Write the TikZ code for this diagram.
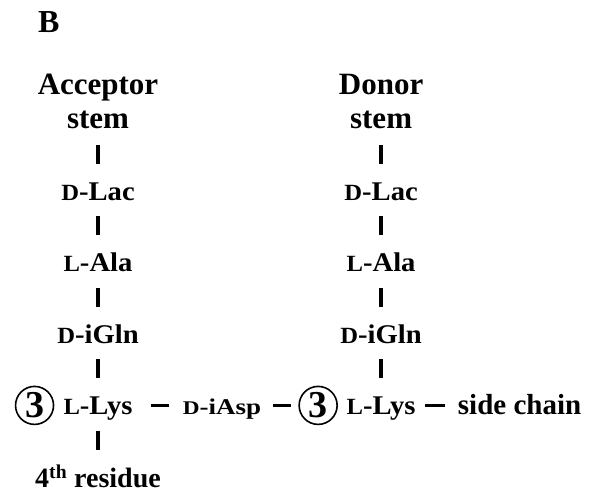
\documentclass[tikz,border=0pt]{standalone}
\usepackage{fontspec}
\setmainfont{Liberation Serif}
\newfontfamily\labelfont[FakeStretch=1.06]{Liberation Serif}
\newfontfamily\bridgefont[FakeStretch=1.2]{Liberation Serif}
\usepackage{tikz}
\usetikzlibrary{positioning}
\newcommand\chir[1]{\scalebox{.86}{#1}}
\tikzset{
  panel/.style={font=\fontsize{32}{32}\selectfont\bfseries, inner sep=0pt},
  stemhead/.style={font=\fontsize{31}{34}\selectfont\bfseries, align=center, inner sep=0pt, text depth=0pt, anchor=south},
  resid/.style={font=\labelfont\fontsize{27}{27}\selectfont\bfseries, inner sep=0pt, text height=18pt, text depth=0pt},
  link/.style={font=\bridgefont\fontsize{22.5}{22.5}\selectfont\bfseries, inner sep=0pt, text height=18pt, text depth=0pt},
  tag/.style={font=\fontsize{29}{29}\selectfont\bfseries, inner sep=0pt, text height=18pt, text depth=0pt},
  num/.style={circle, draw, line width=1.6pt, inner sep=0pt, minimum size=38pt, font=\fontsize{38}{38}\selectfont\bfseries},
  vbond/.style={line width=4.5pt, shorten <=16pt, shorten >=18pt},
  hbond/.style={line width=3.5pt},
}
\begin{document}
\begin{tikzpicture}[x=1pt, y=-1pt, node distance=53pt]
  \useasboundingbox (0,0) rectangle (589,499);
  \node[panel, anchor=base west] (panelB) at (38,32) {B};
  % acceptor stem
  \node[stemhead] (acc) at (98,129) {Acceptor\\stem};
  \node[resid, below=of acc] (lacA) {\chir{D}-Lac};
  \node[resid, below=of lacA] (alaA) {\chir{L}-Ala};
  \node[resid, below=of alaA] (glnA) {\chir{D}-iGln};
  \node[resid, below=of glnA] (lysA) {\chir{L}-Lys};
  \node[num, left=9pt of lysA] (numA) {3};
  \node[tag, below=of lysA, text height=20pt, font=\fontsize{28}{28}\selectfont\bfseries] (fourth) {4\textsuperscript{th} residue};
  % cross-bridge and donor stem
  \node[link, right=50pt of lysA] (asp) {\chir{D}-iAsp};
  \node[num, right=37pt of asp] (numD) {3};
  \node[resid, right=8.5pt of numD] (lysD) {\chir{L}-Lys};
  \node[tag, right=42pt of lysD] (side) {side chain};
  \node[resid, above=of lysD] (glnD) {\chir{D}-iGln};
  \node[resid, above=of glnD] (alaD) {\chir{L}-Ala};
  \node[resid, above=of alaD] (lacD) {\chir{D}-Lac};
  \node[stemhead, above=of lacD] (don) {Donor\\stem};
  \foreach \a/\b in {acc/lacA, lacA/alaA, alaA/glnA, glnA/lysA, lysA/fourth,
                     don/lacD, lacD/alaD, alaD/glnD, glnD/lysD}
    \draw[vbond] (\a) -- (\b);
  \draw[hbond, shorten <=18pt, shorten >=14pt] (lysA) -- (asp);
  \draw[hbond, shorten <=12pt, shorten >=7pt] (asp) -- (numD);
  \draw[hbond, shorten <=9pt, shorten >=13pt] (lysD) -- (side);
\end{tikzpicture}
\end{document}
